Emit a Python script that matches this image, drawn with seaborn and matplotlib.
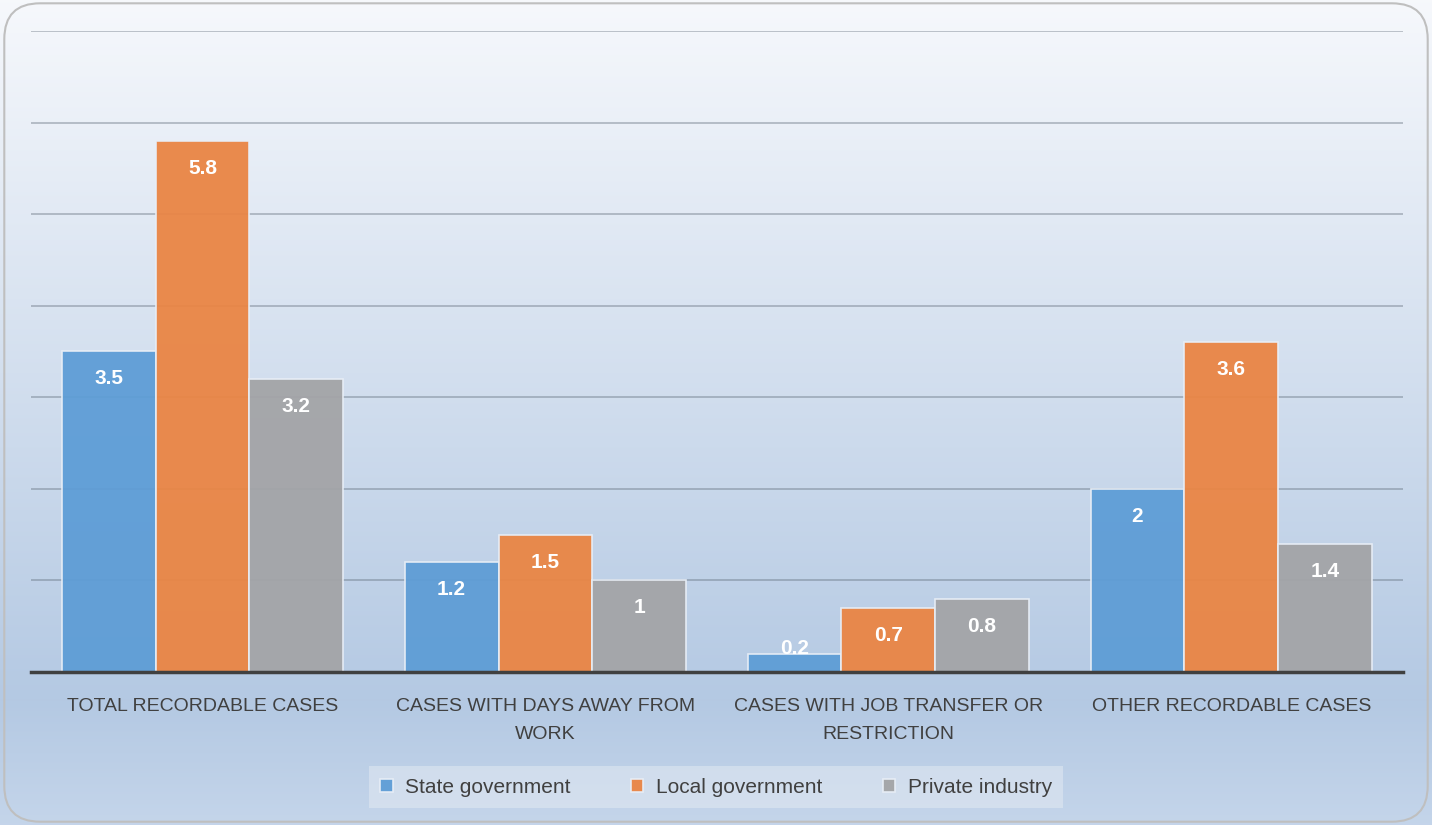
import matplotlib
matplotlib.use("Agg")
import matplotlib.pyplot as plt
from matplotlib.patches import FancyBboxPatch
import seaborn as sns
import numpy as np
import pandas as pd

# data
categories = ["TOTAL RECORDABLE CASES", "CASES WITH DAYS AWAY FROM\nWORK",
              "CASES WITH JOB TRANSFER OR\nRESTRICTION", "OTHER RECORDABLE CASES"]
series = ["State government", "Local government", "Private industry"]
state_vals = [3.5, 1.2, 0.2, 2.0]
local_vals = [5.8, 1.5, 0.7, 3.6]
private_vals = [3.2, 1.0, 0.8, 1.4]
value_labels = [["3.5", "1.2", "0.2", "2"],
                ["5.8", "1.5", "0.7", "3.6"],
                ["3.2", "1", "0.8", "1.4"]]
colors = ["#5e9dd6", "#ea8544", "#a3a4a7"]

df = pd.DataFrame({
    "category": categories * 3,
    "series": [s for s in series for _ in categories],
    "value": state_vals + local_vals + private_vals,
})

sns.set_theme(style="white")
plt.rcParams["font.family"] = ["Liberation Sans", "DejaVu Sans"]

fig = plt.figure(figsize=(14.32, 8.25), dpi=100)

# gradient background
bg = fig.add_axes([0, 0, 1, 1], zorder=-10)
stops = np.array([0.0, 0.85, 1.0])
cols = np.array([[0.965, 0.973, 0.988],
                 [0.706, 0.788, 0.890],
                 [0.769, 0.835, 0.918]])
t = np.linspace(0, 1, 400)
img = np.stack([np.interp(t, stops, cols[:, k]) for k in range(3)], axis=1)
bg.imshow(img[:, None, :], aspect="auto", extent=[0, 1, 0, 1], origin="upper")
bg.set_xlim(0, 1)
bg.set_ylim(0, 1)
bg.axis("off")
frame = FancyBboxPatch((0.003, 0.004), 0.994, 0.992,
                       boxstyle="round,pad=0,rounding_size=0.025",
                       transform=bg.transAxes, fill=False,
                       edgecolor="#bfbfbf", linewidth=1.5,
                       mutation_aspect=1432 / 825)
bg.add_patch(frame)

ax = fig.add_axes([0.0216, 0.1855, 0.958, 0.777])
ax.patch.set_alpha(0)
sns.barplot(data=df, x="category", y="value", hue="series", palette=colors,
            saturation=1, width=0.82, ax=ax, edgecolor="#e8eef6",
            linewidth=1.2, alpha=0.95, legend=True)

ax.set_ylim(0, 7)
ax.set_yticks(np.arange(0, 8, 1))
ax.set_yticklabels([])
ax.tick_params(axis="y", length=0)
ax.yaxis.grid(True, color="#5f6b78", alpha=0.45, linewidth=1.2)
ax.set_axisbelow(True)
for s in ["top", "right", "left"]:
    ax.spines[s].set_visible(False)
ax.spines["bottom"].set_color("#404040")
ax.spines["bottom"].set_linewidth(2.5)
ax.set_xlabel("")
ax.set_ylabel("")
ax.tick_params(axis="x", length=0, pad=19, labelsize=14, labelcolor="#404040")
for lbl in ax.get_xticklabels():
    lbl.set_linespacing(1.8)

# value labels
for cont, labs in zip(ax.containers, value_labels):
    for bar, txt in zip(cont, labs):
        h = bar.get_height()
        y = max(h - 0.3, 0.26)
        ax.text(bar.get_x() + bar.get_width() / 2, y, txt, ha="center",
                va="center", color="white", fontsize=15, fontweight="bold")

handles, labels = ax.get_legend_handles_labels()
ax.legend_.remove()
leg = fig.legend(handles, labels, loc="center", bbox_to_anchor=(0.5, 0.046),
                 ncol=3, frameon=True, fontsize=15, handlelength=0.6,
                 handleheight=0.6, handletextpad=0.6, columnspacing=2.9,
                 borderpad=0.55, fancybox=False)
leg.get_frame().set_facecolor("#e2e9f2")
leg.get_frame().set_alpha(0.55)
leg.get_frame().set_edgecolor("none")
for t in leg.get_texts():
    t.set_color("#404040")

fig.savefig("out.png", dpi=100)
